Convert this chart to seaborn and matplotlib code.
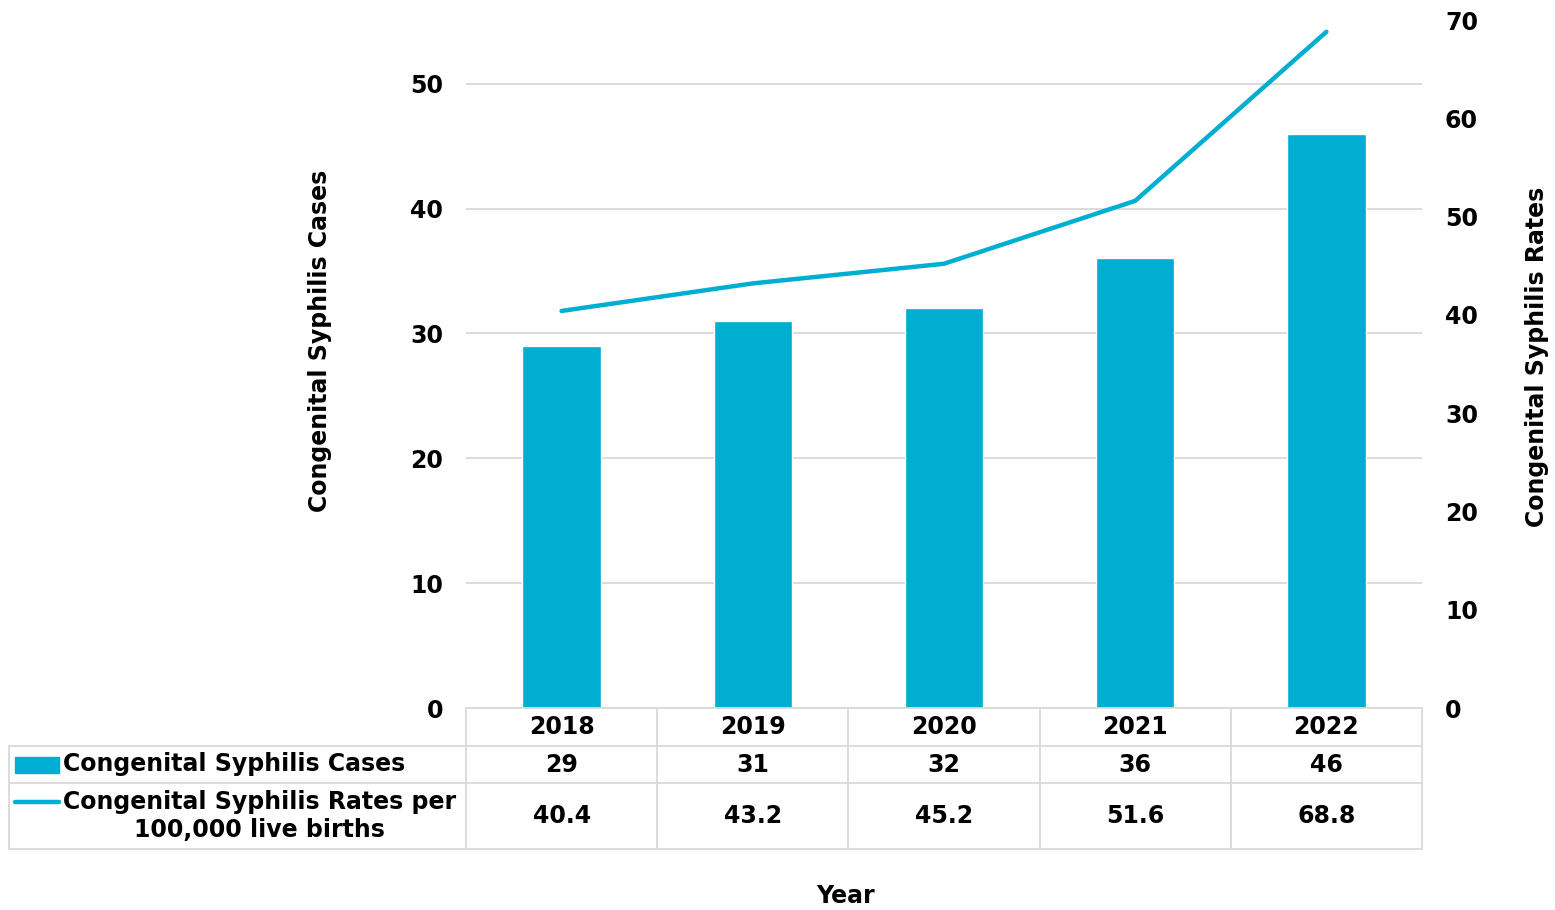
import matplotlib
matplotlib.use("Agg")
import matplotlib.pyplot as plt
import matplotlib.transforms as mtransforms
import numpy as np
import pandas as pd
import seaborn as sns

years = ["2018", "2019", "2020", "2021", "2022"]
cases = [29, 31, 32, 36, 46]
rates = [40.4, 43.2, 45.2, 51.6, 68.8]
case_labels = ["29", "31", "32", "36", "46"]
rate_labels = ["40.4", "43.2", "45.2", "51.6", "68.8"]
row_names = ["Congenital Syphilis Cases",
             "Congenital Syphilis Rates per\n100,000 live births"]

BLUE = "#00AED1"
GRID = "#d9d9d9"
FS = 17

sns.set_theme(style="white")
plt.rcParams["font.family"] = ["DejaVu Sans"]
plt.rcParams["font.weight"] = "bold"
plt.rcParams["text.color"] = "black"
plt.rcParams["axes.labelcolor"] = "black"
plt.rcParams["ytick.color"] = "black"

df = pd.DataFrame({"year": years, "cases": cases, "rates": rates})

fig = plt.figure(figsize=(15.55, 9.10), dpi=100)
ax_h = 688
ax = fig.add_axes([466 / 1555, 1 - 708 / 910, 956 / 1555, ax_h / 910])

sns.barplot(data=df, x="year", y="cases", color=BLUE, width=0.41,
            saturation=1, ax=ax)
n = len(years)
ax.set_xlim(-0.5, n - 0.5)
ax.set_ylim(0, 55.1)
ax.set_yticks([0, 10, 20, 30, 40, 50])
ax.yaxis.grid(True, color=GRID, lw=1.3)
ax.set_axisbelow(True)
for s in ax.spines.values():
    s.set_visible(False)
ax.tick_params(axis="x", bottom=False, labelbottom=False)
ax.tick_params(axis="y", left=False, length=0, pad=16.5, labelsize=FS)

ax2 = ax.twinx()
sns.lineplot(x=np.arange(n), y=rates, color=BLUE, lw=3.2, ax=ax2,
             solid_capstyle="round")
ax2.set_ylim(0, 70)
ax2.set_yticks(range(0, 71, 10))
for s in ax2.spines.values():
    s.set_visible(False)
ax2.tick_params(axis="y", right=False, length=0, pad=16.5, labelsize=FS)

ax.set_ylabel("Congenital Syphilis Cases", fontsize=FS, fontweight="bold")
ax.yaxis.set_label_coords(-0.140, 0.533)
ax2.set_ylabel("Congenital Syphilis Rates", fontsize=FS, fontweight="bold")
ax2.yaxis.set_label_coords(1.108, 0.51)

ax.set_xlabel("Year", fontsize=FS, fontweight="bold")
ax.xaxis.set_label_coords(0.397, -0.256)

# data table drawn under the plot: x in data units, y in axes fraction
tr = mtransforms.blended_transform_factory(ax.transData, ax.transAxes)
px_per_cat = 956 / n
x_lab = -0.5 - 457 / px_per_cat          # left edge of the label column
y_rows = [0, -38 / ax_h, -75 / ax_h, -141 / ax_h]
line_kw = dict(color=GRID, lw=1.3, transform=tr, clip_on=False)

# horizontal rules
ax.plot([-0.5, n - 0.5], [y_rows[0]] * 2, **line_kw)
for y in y_rows[1:]:
    ax.plot([x_lab, n - 0.5], [y] * 2, **line_kw)
# vertical rules
ax.plot([x_lab, x_lab], [y_rows[1], y_rows[3]], **line_kw)
for i in range(n + 1):
    ax.plot([i - 0.5, i - 0.5], [y_rows[0], y_rows[3]], **line_kw)

def mid(a, b):
    return (a + b) / 2

for i in range(n):
    ax.text(i, mid(y_rows[0], y_rows[1]), years[i], transform=tr,
            ha="center", va="center", fontsize=FS, fontweight="bold")
    ax.text(i, mid(y_rows[1], y_rows[2]), case_labels[i], transform=tr,
            ha="center", va="center", fontsize=FS, fontweight="bold")
    ax.text(i, mid(y_rows[2], y_rows[3]), rate_labels[i], transform=tr,
            ha="center", va="center", fontsize=FS, fontweight="bold")

# row labels with legend keys
key_x0 = x_lab + 6 / px_per_cat
key_x1 = x_lab + 50 / px_per_cat
txt_x = x_lab + 54 / px_per_cat
y1 = mid(y_rows[1], y_rows[2])
ax.add_patch(plt.Rectangle((key_x0, y1 - 8 / ax_h), key_x1 - key_x0,
                           16 / ax_h, color=BLUE, transform=tr,
                           clip_on=False))
ax.text(txt_x, y1, row_names[0], transform=tr, ha="left", va="center",
        fontsize=FS, fontweight="bold")

y2_top = y_rows[2] - 19 / ax_h
ax.plot([key_x0, key_x1], [y2_top, y2_top], color=BLUE, lw=3.2,
        transform=tr, clip_on=False, solid_capstyle="round")
first, second = row_names[1].split("\n")
ax.text(txt_x, y2_top, first, transform=tr, ha="left", va="center",
        fontsize=FS, fontweight="bold")
t1 = ax.text(txt_x, y2_top, first, transform=tr, ha="left", va="center",
             fontsize=FS, fontweight="bold", alpha=0)
fig.canvas.draw()
bb = t1.get_window_extent().transformed(ax.transData.inverted())
ax.text(mid(bb.x0, bb.x1), y2_top - 28 / ax_h, second, transform=tr,
        ha="center", va="center", fontsize=FS, fontweight="bold")

plt.savefig("out.png", dpi=100)
